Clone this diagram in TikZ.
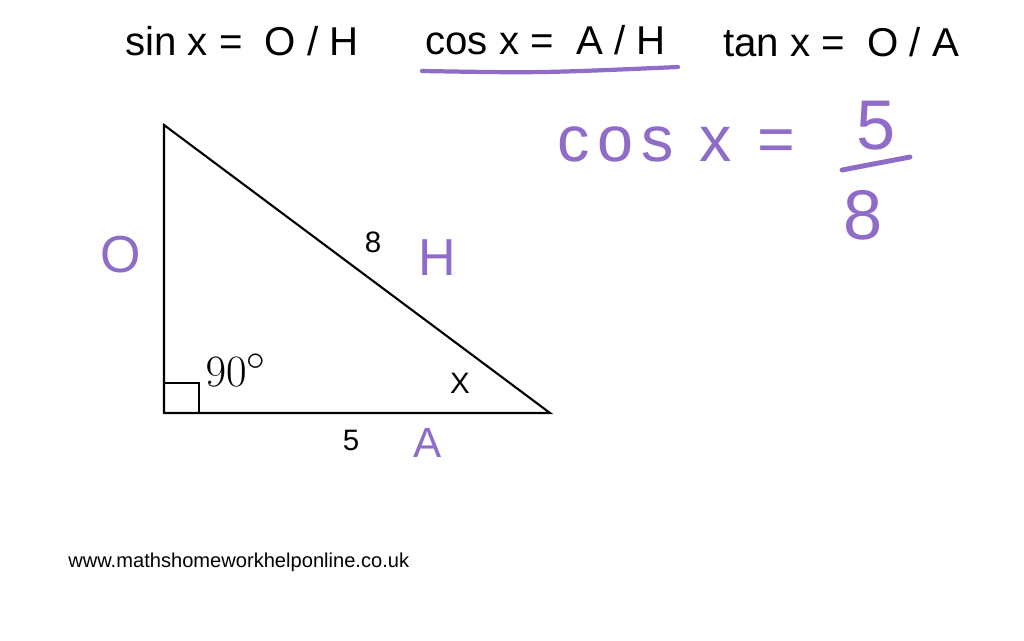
\documentclass[tikz,border=0pt]{standalone}
\usepackage{fontspec}
\setmainfont{Liberation Sans}
\definecolor{pen}{RGB}{142,108,200}
\tikzset{formula/.style={font=\fontsize{28.6}{30}\selectfont, inner sep=0pt, anchor=base west},
  side/.style={font=\fontsize{21}{24}\selectfont, inner sep=0pt},
  ink/.style={text=pen, inner sep=0pt}}

\begin{document}
\begin{tikzpicture}[x=0.025cm,y=-0.025cm]
  \useasboundingbox (0,0) rectangle (1024,640);

  \node [formula] (sinrule) at (125,55) {sin x = \ O / H};
  \node [formula] (cosrule) at (425,54) {cos x = \ A / H};
  \node [formula] (tanrule) at (723,56) {tan x = \ O / A};
  \draw [pen, line width=3pt, line cap=round] (422,71) .. controls (540,73) .. (678,67);

  \coordinate (top) at (164,125);
  \coordinate (corner) at (164,413);
  \coordinate (tip) at (550,413);
  \draw [line width=1.5pt, line join=miter] (top) -- (corner) -- (tip) -- cycle;
  \draw [line width=1.5pt] (corner) rectangle +(35,-30);

  \node [side] (hyp) at (373,242) {8};
  \node [side] (angx) at (460,383) {X};
  \node [side] (adj) at (351,440) {5};
  \node [font=\fontsize{24.88}{30}\selectfont, scale=1.28, inner sep=0pt] (rightang) at (236,370) {$90^\circ$};

  \node [ink, font=\fontsize{37}{40}\selectfont] (opp) at (121,255) {O};
  \node [ink, font=\fontsize{37}{40}\selectfont] (hypname) at (437,258) {H};
  \node [ink, font=\fontsize{30}{32}\selectfont] (adjname) at (428,443) {A};

  \node [ink, font=\fontsize{46}{50}\selectfont\addfontfeature{LetterSpace=12}, anchor=base west] (cosx) at (557,161) {cos x =};
  \node [ink, font=\fontsize{50}{52}\selectfont] (num) at (876,126) {5};
  \node [ink, font=\fontsize{50}{52}\selectfont] (den) at (863,215) {8};
  \draw [pen, line width=3.5pt, line cap=round] (842,170) -- (910,157);

  \node [font=\fontsize{14.3}{16}\selectfont, anchor=west, inner sep=0pt] (web) at (68,562) {www.mathshomeworkhelponline.co.uk};
\end{tikzpicture}
\end{document}
